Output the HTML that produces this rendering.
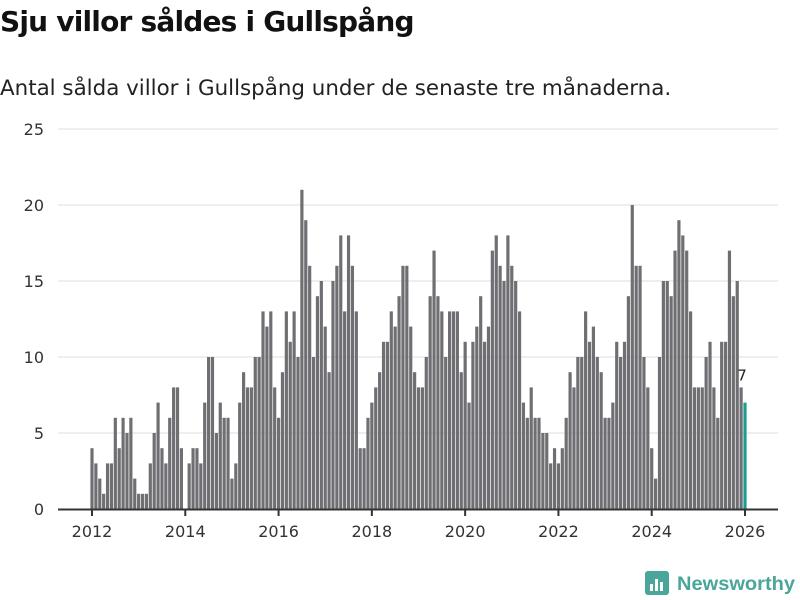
<!DOCTYPE html>
<html><head><meta charset="utf-8"><style>
body{margin:0;background:#fff;font-family:"Liberation Sans","DejaVu Sans",sans-serif;}
#wrap{position:relative;width:800px;height:600px;overflow:hidden}
h1{position:absolute;left:0;top:5px;margin:0;font-size:28px;font-weight:bold;color:#111;font-family:"DejaVu Sans",sans-serif;letter-spacing:-0.8px}
p.sub{position:absolute;left:0;top:76px;margin:0;font-size:21.4px;color:#222;font-family:"DejaVu Sans",sans-serif}
</style></head><body><div id="wrap">
<h1>Sju villor såldes i Gullspång</h1>
<p class="sub">Antal sålda villor i Gullspång under de senaste tre månaderna.</p>
<svg id="chart" width="800" height="600" style="position:absolute;left:0;top:0"></svg>
</div>
<script>
const yTicks=[0,5,10,15,20,25];
const xTickLabels=["2012","2014","2016","2018","2020","2022","2024","2026"];
const values=[4,3,2,1,3,3,6,4,6,5,6,2,
1,1,1,3,5,7,4,3,6,8,8,4,
0,3,4,4,3,7,10,10,5,7,6,6,
2,3,7,9,8,8,10,10,13,12,13,8,
6,9,13,11,13,10,21,19,16,10,14,15,
12,9,15,16,18,13,18,16,13,4,4,6,
7,8,9,11,11,13,12,14,16,16,12,9,
8,8,10,14,17,14,13,10,13,13,13,9,
11,7,11,12,14,11,12,17,18,16,15,18,
16,15,13,7,6,8,6,6,5,5,3,4,
3,4,6,9,8,10,10,13,11,12,10,9,
6,6,7,11,10,11,14,20,16,16,10,8,
4,2,10,15,15,14,17,19,18,17,13,8,
8,8,10,11,8,6,11,11,17,14,15,8,
7];
const NS="http://www.w3.org/2000/svg";
const svg=document.getElementById('chart');
const X0=92,X1=745,Y0=509,Y1=129;
function xs(i){return X0+i*(X1-X0)/(values.length-1);}
function ys(v){return Y0-v*(Y0-Y1)/25;}
function mk(t,a){const e=document.createElementNS(NS,t);for(const k in a)e.setAttribute(k,a[k]);svg.appendChild(e);return e;}
yTicks.forEach(v=>{
  if(v>0){const g=mk('line',{x1:58,x2:778,y1:ys(v),y2:ys(v),stroke:'#dcdcdc','stroke-width':1});
  
  }
  const t=mk('text',{x:44,y:ys(v)+6,'text-anchor':'end','font-size':16,fill:'#333','font-family':'DejaVu Sans, sans-serif'});
  t.textContent=v;
  
  
});
const bw=(X1-X0)/(values.length-1)*0.82;
values.forEach((v,i)=>{
  const last=i===values.length-1;
  const r=mk('rect',{x:xs(i)-bw/2,y:ys(v),width:bw,height:Y0-ys(v),fill:last?'#1a9e92':'#6f6e73'});
  
  
});
const ax=mk('line',{x1:58,x2:778,y1:Y0+0.5,y2:Y0+0.5,stroke:'#333','stroke-width':2});


xTickLabels.forEach((l,k)=>{
  const x=xs(k*24);
  const tk=mk('line',{x1:x,x2:x,y1:Y0,y2:Y0+7,stroke:'#333','stroke-width':2});
  
  
  const t=mk('text',{x:x,y:Y0+28,'text-anchor':'middle','font-size':16,fill:'#333','font-family':'DejaVu Sans, sans-serif'});
  t.textContent=l;
  
  
});
const lv=values[values.length-1];
const lt=mk('text',{x:xs(values.length-1)-3,y:ys(lv)-22,'text-anchor':'middle','font-size':15,fill:'#222','font-family':'DejaVu Sans, sans-serif'});
lt.textContent=lv;


// logo
const lg=mk('g',{});


const b=document.createElementNS(NS,'rect');
b.setAttribute('x',645);b.setAttribute('y',571);b.setAttribute('width',24);b.setAttribute('height',24);b.setAttribute('rx',3);b.setAttribute('fill','#4aa69a');lg.appendChild(b);
[[650,584,3,7],[655,579,3,12],[660,582,3,9]].forEach(a=>{const r=document.createElementNS(NS,'rect');r.setAttribute('x',a[0]);r.setAttribute('y',a[1]);r.setAttribute('width',a[2]);r.setAttribute('height',a[3]);r.setAttribute('fill','#fff');lg.appendChild(r);});
const lt2=document.createElementNS(NS,'text');
lt2.setAttribute('x',677);lt2.setAttribute('y',590);lt2.setAttribute('font-size',19);lt2.setAttribute('font-weight','bold');lt2.setAttribute('fill','#4aa69a');lt2.setAttribute('font-family','Liberation Sans, sans-serif');lt2.setAttribute('textLength',118);lt2.setAttribute('lengthAdjust','spacingAndGlyphs');
lt2.textContent='Newsworthy';lg.appendChild(lt2);
</script></body></html>
